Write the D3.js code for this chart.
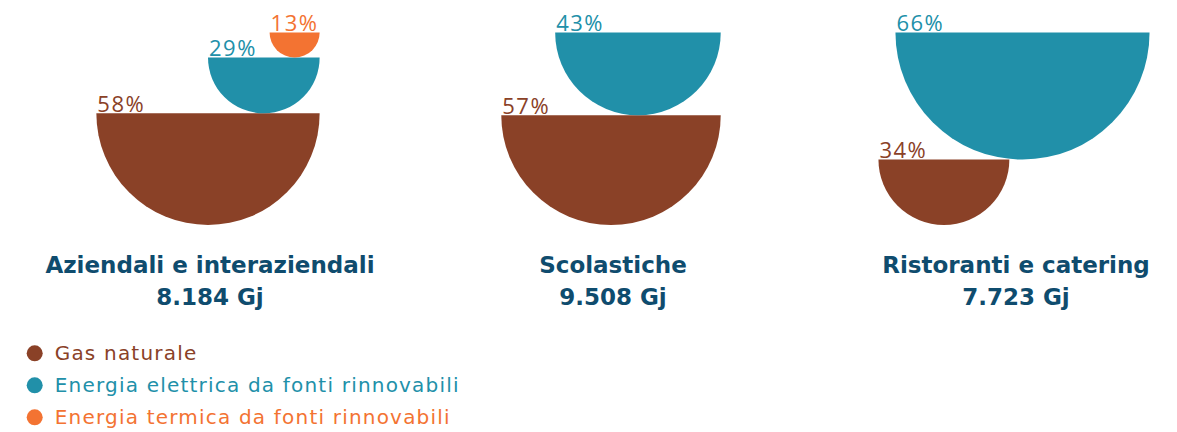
<!DOCTYPE html>
<html>
<head>
<meta charset="utf-8">
<script src="https://d3js.org/d3.v7.min.js"></script>
<style>
  body { margin: 0; background: #fff; }
  svg text { font-family: "Open Sans", sans-serif; }
</style>
</head>
<body>
<div id="chart"></div>
<script>
    // data
    var categories = ["Aziendali e interaziendali", "Scolastiche", "Ristoranti e catering"];
    var totals = ["8.184 Gj", "9.508 Gj", "7.723 Gj"];
    var seriesNames = ["Gas naturale", "Energia elettrica da fonti rinnovabili", "Energia termica da fonti rinnovabili"];
    var gasNaturale = [58, 57, 34];
    var elettrica = [29, 43, 66];
    var termica = [13, null, null];

    var colors = ["#8a4127", "#2190a9", "#f37332"];
    var titleColor = "#0f4c6e";

    var width = 1177, height = 432;
    var baseY = 225;
    // how the semicircles of a group line up: right edges, or bottom one left / top one right
    var align = ["right", "right", "spread"];
    var spreadShift = 17;

    var svg = d3.select("#chart").append("svg")
        .attr("width", width)
        .attr("height", height);

    var x = d3.scalePoint().domain(categories).range([208, 1014]);
    var r = d3.scaleLinear().domain([0, 100]).range([0, 192.5]);

    var arc = d3.arc()
        .innerRadius(0)
        .startAngle(Math.PI / 2)
        .endAngle(Math.PI * 3 / 2);

    var series = [gasNaturale, elettrica, termica];

    categories.forEach(function (cat, i) {
        var g = svg.append("g");
        var cx0 = x(cat);
        var vals = series.map(function (s, k) { return { v: s[i], k: k }; })
            .filter(function (d) { return d.v != null; });
        var maxR = d3.max(vals, function (d) { return r(d.v); });
        var right = cx0 + maxR;

        // positions for each semicircle, stacked bottom-up
        var bottom = baseY;
        var items = [];
        if (align[i] == "spread") {
            var r0 = r(vals[0].v), r1 = r(vals[1].v);
            var total = Math.max(2 * r0, spreadShift + 2 * r1);
            var left = cx0 - total / 2;
            items.push({ d: vals[0], cx: left + r0 });
            items.push({ d: vals[1], cx: left + spreadShift + r1 });
        } else {
            vals.forEach(function (d) {
                items.push({ d: d, cx: right - r(d.v) });
            });
        }
        items.forEach(function (it) {
            var rad = r(it.d.v);
            it.top = bottom - rad;
            it.rad = rad;
            bottom = it.top;
        });

        g.selectAll("path")
            .data(items)
            .enter()
            .append("path")
            .attr("transform", function (d) { return "translate(" + d.cx + "," + d.top + ")"; })
            .attr("d", function (d) { return arc({ outerRadius: d.rad }); })
            .attr("fill", function (d) { return colors[d.d.k]; });

        g.selectAll(".pct")
            .data(items)
            .enter()
            .append("text")
            .attr("class", "pct")
            .attr("x", function (d) { return d.cx - d.rad + 1; })
            .attr("y", function (d) { return d.top - 1.5; })
            .attr("fill", function (d) { return colors[d.d.k]; })
            .style("font-size", "22px")
            .style("font-weight", 400)
            .style("letter-spacing", "1.5px")
            .text(function (d) { return d.d.v + "%"; });

        g.append("text")
            .attr("x", cx0 + 2)
            .attr("y", 273)
            .attr("text-anchor", "middle")
            .attr("fill", titleColor)
            .style("font-family", "DejaVu Sans, sans-serif")
            .style("font-size", "23px")
            .style("font-weight", "bold")
            .text(cat);

        g.append("text")
            .attr("x", cx0 + 2)
            .attr("y", 305)
            .attr("text-anchor", "middle")
            .attr("fill", titleColor)
            .style("font-family", "DejaVu Sans, sans-serif")
            .style("font-size", "23px")
            .style("font-weight", "bold")
            .text(totals[i]);
    });

    // legend
    var legend = svg.append("g").attr("transform", "translate(34.7,353.3)");
    var item = legend.selectAll("g")
        .data(seriesNames)
        .enter()
        .append("g")
        .attr("transform", function (d, i) { return "translate(0," + (i * 32) + ")"; });
    item.append("circle")
        .attr("r", 8)
        .attr("fill", function (d, i) { return colors[i]; });
    item.append("text")
        .attr("x", 20)
        .attr("y", 7)
        .attr("fill", function (d, i) { return colors[i]; })
        .style("font-family", "DejaVu Sans, sans-serif")
        .style("font-size", "20px")
        .style("letter-spacing", "1.2px")
        .text(function (d) { return d; });
</script>
</body>
</html>
